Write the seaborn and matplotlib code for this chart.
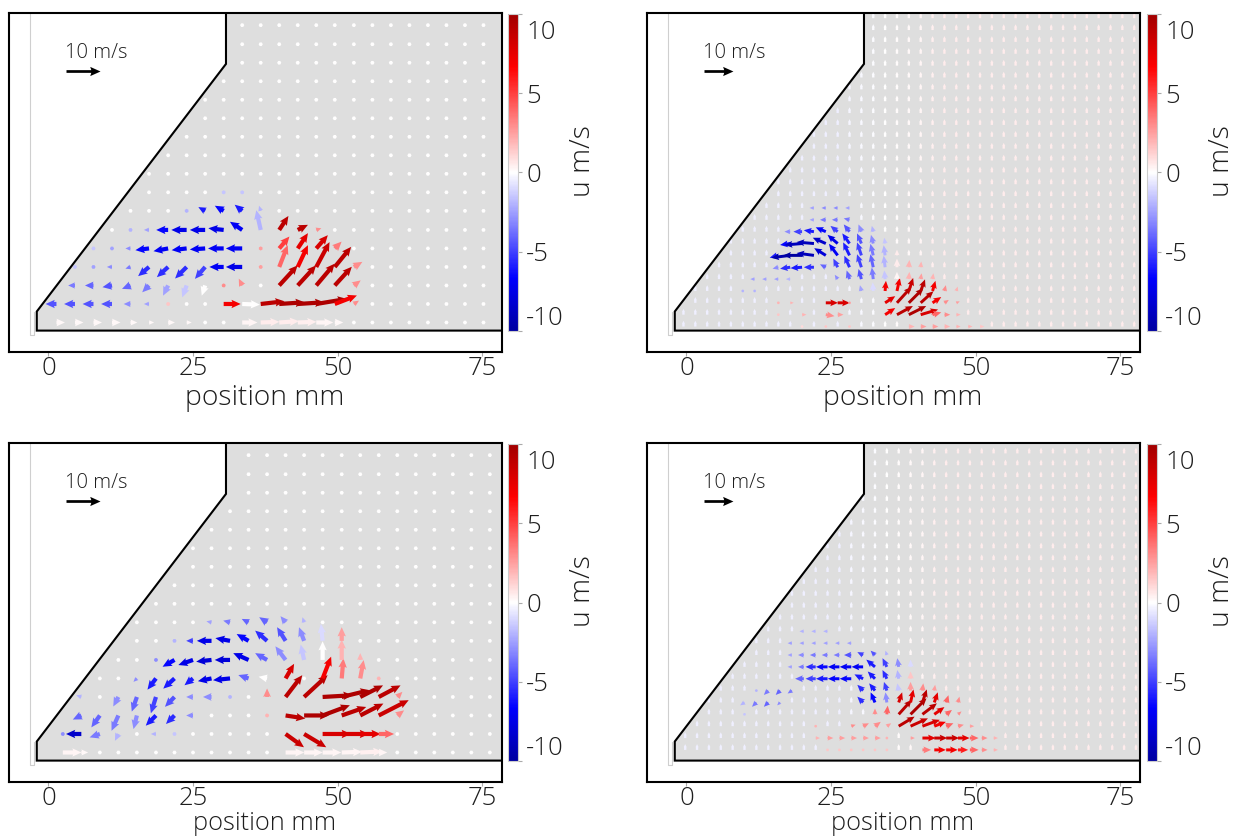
import numpy as np
import matplotlib
matplotlib.use("Agg")
import matplotlib.pyplot as plt
import seaborn as sns
from matplotlib.patches import Polygon
from matplotlib.colors import Normalize
from matplotlib.cm import ScalarMappable
from matplotlib.path import Path
from matplotlib.transforms import ScaledTranslation

# ------------------------------------------------------------------ data
# nozzle / measurement-window outline (mm)
shape_x = [-2.0, 78.3, 78.3, 30.7, 30.7, -2.0]
shape_y = [0.0, 0.0, 54.9, 54.9, 46.1, 3.3]

x_ticks = [0, 25, 50, 75]
cbar_ticks = [-10, -5, 0, 5, 10]
key_u = 10.0
key_label = "10 m/s"

# measurement grids (mm)
left_grid_y = [1.4, 4.6, 7.8, 11.0, 14.2, 17.4, 20.7, 23.9, 27.1, 30.3, 33.5,
               36.7, 39.9, 43.1, 46.3, 49.5, 52.8]
tl_grid_x = [1.4, 4.6, 7.8, 11.0, 14.2, 17.4, 20.7, 23.9, 27.1, 30.3, 33.5, 36.7,
             39.9, 43.1, 46.3, 49.5, 52.8, 56.0, 59.2, 62.4, 65.6, 68.8, 72.0, 75.2]
bl_grid_x = [2.5, 5.7, 8.9, 12.1, 15.3, 18.6, 21.8, 25.0, 28.2, 31.4, 34.6, 37.8,
             41.0, 44.2, 47.4, 50.7, 53.9, 57.1, 60.3, 63.5, 66.7, 69.9, 73.1, 76.3]
tr_grid_x = [-0.5, 1.55, 3.6, 5.65, 7.7, 9.75, 11.8, 13.85, 15.9, 17.95, 20.0, 22.05,
             24.1, 26.15, 28.2, 30.25, 32.3, 34.35, 36.4, 38.45, 40.5, 42.55, 44.6,
             46.65, 48.7, 50.75, 52.8, 54.85, 56.9, 58.95, 61.0, 63.05, 65.1, 67.15,
             69.2, 71.25, 73.3, 75.35, 77.4]
tr_grid_y = [0.7, 2.75, 4.8, 6.85, 8.9, 10.95, 13.0, 15.05, 17.1, 19.15, 21.2, 23.25,
             25.3, 27.35, 29.4, 31.45, 33.5, 35.55, 37.6, 39.65, 41.7, 43.75, 45.8,
             47.85, 49.9, 51.95, 54.0]
br_grid_x = [-0.2, 1.85, 3.9, 5.95, 8.0, 10.05, 12.1, 14.15, 16.2, 18.25, 20.3, 22.35,
             24.4, 26.45, 28.5, 30.55, 32.6, 34.65, 36.7, 38.75, 40.8, 42.85, 44.9,
             46.95, 49.0, 51.05, 53.1, 55.15, 57.2, 59.25, 61.3, 63.35, 65.4, 67.45,
             69.5, 71.55, 73.6, 75.65, 77.7]
br_grid_y = [1.85, 3.9, 5.95, 8.0, 10.05, 12.1, 14.15, 16.2, 18.25, 20.3, 22.35, 24.4,
             26.45, 28.5, 30.55, 32.6, 34.65, 36.7, 38.75, 40.8, 42.85, 44.9, 46.95,
             49.0, 51.05, 53.1]

# weak background flow in the fine (right) fields: vertical component and tint of u
tr_bg_v = 2.0
br_bg_v = 2.0
tr_bg_c = [-0.4, -0.4, -0.4, -0.4, -0.4, -0.4, -0.4, -0.4, -0.4, -0.4, -0.4, -0.4, -0.4,
           -0.4, -0.3, -0.2, -0.1, 0.0, 0.1, 0.2, 0.3, 0.4, 0.5, 0.5, 0.5, 0.5, 0.5, 0.5,
           0.5, 0.5, 0.5, 0.5, 0.5, 0.5, 0.5, 0.5, 0.5, 0.5, 0.5]
br_bg_c = [-0.4, -0.4, -0.4, -0.4, -0.4, -0.4, -0.4, -0.4, -0.4, -0.4, -0.4, -0.4, -0.4,
           -0.4, -0.3, -0.2, -0.1, 0.0, 0.1, 0.2, 0.3, 0.4, 0.5, 0.5, 0.5, 0.5, 0.5, 0.5,
           0.5, 0.5, 0.5, 0.5, 0.5, 0.5, 0.5, 0.5, 0.5, 0.5, 0.5]

# ---- top-left field (grid column, grid row, u, v, colour value u m/s)
tl_col = [0, 1, 2, 3, 4, 5, 6, 7, 10, 11, 12, 13, 14, 15,
          0, 1, 2, 3, 4, 5, 6, 9, 10, 11, 12, 13, 14, 15, 16,
          1, 2, 3, 4, 5, 6, 7, 8, 9, 10, 12, 13, 14, 15, 16,
          1, 2, 3, 4, 5, 6, 7, 8, 9, 10, 11, 12, 13, 14, 15, 16,
          2, 3, 4, 5, 6, 7, 8, 9, 10, 11, 12, 13, 14, 15,
          4, 5, 6, 7, 8, 9, 10, 11, 12, 13, 14,
          7, 8, 9, 10, 11,
          9, 10]
tl_row = [0, 0, 0, 0, 0, 0, 0, 0, 0, 0, 0, 0, 0, 0,
          1, 1, 1, 1, 1, 1, 1, 1, 1, 1, 1, 1, 1, 1, 1,
          2, 2, 2, 2, 2, 2, 2, 2, 2, 2, 2, 2, 2, 2, 2,
          3, 3, 3, 3, 3, 3, 3, 3, 3, 3, 3, 3, 3, 3, 3, 3,
          4, 4, 4, 4, 4, 4, 4, 4, 4, 4, 4, 4, 4, 4,
          5, 5, 5, 5, 5, 5, 5, 5, 5, 5, 5,
          6, 6, 6, 6, 6,
          7, 7]
tl_u = [2.5, 2.5, 2.5, 2.5, 2.0, 1.5, 2.0, 1.5, 4.5, 5.5, 5.8, 5.5, 5.0, 2.5,
        -3.2, -3.2, -3.2, -3.2, -2.0, -1.5, 0.8, 5.0, 5.2, 7.0, 7.5, 7.8, 9.0, 6.5, 1.5,
        -2.0, -2.5, -2.8, -2.5, -2.0, -1.5, -1.3, -1.0, 0.5, -1.0, 5.4, 5.4, 5.4, 5.0, 2.0,
        -0.8, -1.0, -1.5, -1.5, -3.2, -3.3, -3.4, -3.0, -4.2, -4.8, 0.5, 2.5, 3.0, 3.9, 4.8, 2.5,
        -0.5, -1.0, -1.5, -4.0, -4.3, -4.4, -4.5, -4.6, -4.8, -0.8, 3.0, 3.0, 3.4, 2.0,
        -1.0, -1.5, -3.5, -4.5, -4.5, -4.5, -3.6, -1.3, 2.7, 3.0, 1.5,
        -1.0, -2.0, -2.6, -2.2, -0.5,
        -0.8, -0.8]
tl_v = [0, 0, 0, 0, 0, 0, 0, 0, 0, 0.2, 0.4, 0.2, 0, 0,
        0, 0, 0, 0, 0, 0, 0, 0, -0.2, 0.8, 0.5, 0.5, 1.5, 2.5, 1.0,
        0, 0, -0.5, -1.0, -2.0, -3.0, -3.5, -3.0, 0.5, 2.0, 5.9, 5.9, 6.4, 5.5, 1.5,
        0, 0, 0, -0.5, -2.7, -3.0, -3.4, -3.5, 0, 0, 0.5, 6.4, 6.4, 7.3, 5.9, 1.5,
        0, 0, 0, -0.5, -0.8, -0.5, -0.3, 0, 0, 0.5, 3.5, 4.5, 3.9, 2.0,
        0, 0, 0, 0, 0, 0.5, 2.4, 5.8, 4.1, 1.5, 0.5,
        0.5, 1.1, 1.5, 1.8, 1.5,
        0.3, 0.5]
tl_c = [0.2, 0.2, 0.2, 0.2, 0.2, 0.2, 0.2, 0.2, 0.3, 0.5, 0.5, 0.4, 0.3, 0.2,
        -4.5, -4.5, -4.5, -4.5, -3.0, -2.5, 1.5, 7.0, 0.0, 9.0, 9.5, 9.5, 9.5, 7.0, 3.0,
        -3.5, -4.0, -4.5, -4.0, -3.5, -2.5, -1.5, 0.0, 3.0, 3.0, 9.0, 9.0, 9.0, 9.0, 3.0,
        -1.5, -2.5, -3.0, -3.5, -5.5, -5.5, -5.5, -5.0, -7.0, -7.5, 2.5, 4.0, 7.0, 8.5, 9.0, 3.0,
        -1.5, -2.5, -3.0, -6.5, -7.0, -7.0, -7.0, -7.0, -7.0, 2.5, 5.0, 7.5, 8.0, 3.5,
        -2.0, -2.5, -6.5, -7.5, -7.5, -7.5, -7.0, -2.0, 9.0, 9.0, 3.0,
        -2.0, -6.0, -6.5, -6.0, -2.0,
        -1.5, -1.5]

# ---- bottom-left field
bl_col = [0, 1, 12, 13, 14, 15, 16, 17,
          0, 1, 2, 3, 5, 6, 12, 13, 14, 15, 16, 17,
          1, 2, 3, 4, 5, 6, 7, 11, 12, 13, 14, 15, 16, 17, 18,
          1, 3, 4, 5, 6, 7, 8, 9, 11, 12, 13, 14, 15, 16, 17, 18,
          4, 5, 6, 7, 8, 9, 10, 11, 12, 14, 15, 16, 17,
          5, 6, 7, 8, 9, 10, 11, 12, 13, 14, 15, 16,
          6, 7, 8, 9, 10, 11, 12, 13, 14, 15,
          8, 9, 10, 11, 12, 13]
bl_row = [0, 0, 0, 0, 0, 0, 0, 0,
          1, 1, 1, 1, 1, 1, 1, 1, 1, 1, 1, 1,
          2, 2, 2, 2, 2, 2, 2, 2, 2, 2, 2, 2, 2, 2, 2,
          3, 3, 3, 3, 3, 3, 3, 3, 3, 3, 3, 3, 3, 3, 3, 3,
          4, 4, 4, 4, 4, 4, 4, 4, 4, 4, 4, 4, 4,
          5, 5, 5, 5, 5, 5, 5, 5, 5, 5, 5, 5,
          6, 6, 6, 6, 6, 6, 6, 6, 6, 6,
          7, 7, 7, 7, 7, 7]
bl_u = [5.5, 2.0, 5.5, 5.5, 5.5, 6.0, 6.5, 2.5,
        -1.0, -4.5, -3.0, -1.0, -1.5, -1.0, 5.4, 6.5, 8.3, 8.0, 6.0, 4.5,
        -2.5, -2.5, -2.0, -1.0, -3.0, -2.5, -2.0, 0.3, 5.8, 7.3, 8.0, 7.2, 6.8, 8.8, 2.0,
        -1.5, -1.5, -1.5, -1.5, -2.8, -2.0, -2.5, -1.0, 0.0, 4.9, 6.9, 8.8, 8.2, 6.7, 6.4, 1.5,
        -1.0, -2.5, -3.3, -2.5, -4.0, -5.0, -3.0, -2.5, 2.5, 2.5, 0.5, 1.0, 0.3,
        -1.0, -3.5, -4.3, -4.5, -4.5, -4.5, -3.5, -3.0, -1.0, 0.0, 0.0, 0.0,
        -1.0, -2.0, -4.3, -4.3, -3.5, -3.5, -2.5, -1.5, -0.5, 0.0,
        -1.5, -2.0, -2.0, -2.3, -1.5, -0.5]
bl_v = [0, 0, 0, 0, 0, 0.2, 0.3, 0,
        0, 0, -1.0, -2.0, 0, 0, -3.9, -3.9, 0, 0, 0, 0,
        -1.2, -3.5, -4.5, -4.0, -3.0, -2.5, 0, 0.3, -0.9, 0, 3.0, 2.5, 3.5, 4.5, 1.5,
        0.5, -2.8, -4.3, -4.8, -2.9, 0, 0, 0, 2.5, 6.4, 6.4, 0.5, 2.0, 3.4, 3.4, 1.5,
        -1.0, -3.3, -3.0, -2.0, -0.8, -0.5, 1.0, 0.5, 4.3, 6.4, 5.9, 5.4, 0.5,
        -0.5, -2.0, -1.5, -0.5, 0, 2.0, 2.0, 4.0, 4.5, 5.5, 6.0, 2.0,
        0, 0, 0, 0.8, 2.0, 3.0, 4.0, 4.0, 5.0, 4.0,
        0.3, 0.5, 1.0, 1.5, 1.8, 1.5]
bl_c = [0.3, 0.2, 0.3, 0.3, 0.3, 0.3, 0.4, 0.3,
        -3.0, -8.5, -3.5, -2.0, -2.0, -1.5, 8.5, 8.5, 8.0, 8.0, 7.5, 4.0,
        -4.0, -4.0, -3.5, -3.0, -6.0, -5.5, -3.0, 2.0, 9.0, 9.5, 9.5, 9.0, 9.0, 8.5, 3.0,
        -2.0, -3.0, -4.0, -5.0, -4.5, -3.0, -3.0, -2.0, 3.0, 9.0, 9.0, 9.5, 9.5, 9.5, 9.0, 3.0,
        -3.0, -6.0, -6.0, -6.0, -7.5, -7.5, -4.0, 0.0, 8.0, 7.0, 3.5, 3.0, 2.0,
        -3.0, -6.5, -7.5, -8.0, -8.0, -7.5, -4.0, -3.0, -1.5, 0.0, 2.0, 2.0,
        -2.0, -5.0, -7.5, -7.5, -6.5, -5.5, -4.5, -3.0, -1.0, 2.5,
        -2.5, -3.5, -4.0, -4.0, -3.0, -2.0]

# ---- top-right field (fine grid)
tr_col = [10, 12, 14, 19, 20, 21, 22, 23, 24, 25,
          8, 10, 12, 13, 17, 18, 19, 20, 21, 22, 23,
          8, 9, 12, 13, 14, 17, 18, 19, 20, 21, 22, 23,
          5, 6, 15, 16, 17, 18, 19, 20, 21, 22, 23,
          6, 7, 8, 9, 13, 14, 15, 16, 17, 18, 19, 20, 21,
          8, 9, 10, 11, 12, 13, 14, 15, 16, 17, 18, 19, 20,
          8, 9, 10, 11, 12, 13, 14, 15, 16, 17, 18,
          9, 10, 11, 12, 13, 14, 15, 16, 17,
          9, 10, 11, 12, 13, 14, 15, 16,
          11, 12, 13, 14,
          11, 12, 13, 14]
tr_row = [0, 0, 0, 0, 0, 0, 0, 0, 0, 0,
          1, 1, 1, 1, 1, 1, 1, 1, 1, 1, 1,
          2, 2, 2, 2, 2, 2, 2, 2, 2, 2, 2, 2,
          3, 3, 3, 3, 3, 3, 3, 3, 3, 3, 3,
          4, 4, 4, 4, 4, 4, 4, 4, 4, 4, 4, 4, 4,
          5, 5, 5, 5, 5, 5, 5, 5, 5, 5, 5, 5, 5,
          6, 6, 6, 6, 6, 6, 6, 6, 6, 6, 6,
          7, 7, 7, 7, 7, 7, 7, 7, 7,
          8, 8, 8, 8, 8, 8, 8, 8,
          9, 9, 9, 9,
          10, 10, 10, 10]
tr_u = [0.8, 1.0, 1.0, 2.0, 2.0, 2.0, 2.0, 1.5, 1.5, 1.5,
        1.0, 1.5, 3.0, 2.0, 3.5, 5.5, 6.0, 6.0, 3.0, 2.0, 1.5,
        1.0, 1.2, 4.2, 4.2, 1.0, 3.5, 5.0, 5.0, 4.4, 3.0, 1.5, 1.2,
        -1.0, -1.0, -0.5, -0.2, 0.3, 1.0, 1.5, 1.5, 1.0, 0.5, 0.5,
        -1.5, -1.5, -1.5, -1.5, -1.0, -1.0, -1.0, -0.5, -0.3, 0.0, 0.2, 0.3, 0.3,
        -2.0, -3.5, -4.0, -3.5, -2.0, -1.5, -1.8, -1.5, -1.0, -0.5, 0.0, 0.2, 0.2,
        -3.0, -6.5, -6.5, -6.0, -4.0, -3.0, -2.2, -1.5, -1.0, -0.5, 0.0,
        -3.5, -6.0, -6.0, -4.5, -3.5, -2.5, -1.5, -0.8, -0.3,
        -2.0, -3.0, -3.5, -3.5, -2.5, -2.0, -1.0, -0.5,
        -1.5, -2.0, -2.0, -2.0,
        -1.5, -1.5, -1.5, -1.5]
tr_v = [0, 0, 0, 0, 0, 0, 0, 0, 0, 0,
        0, 0, -0.5, 0, 2.3, 3.0, 3.0, 1.8, 0.8, 0, 0,
        0, 0, 0, 0, 0, 2.3, 5.5, 5.0, 4.0, 2.0, 1.0, 0.5,
        0, 0, 2.0, 3.0, 3.5, 4.5, 4.5, 4.0, 3.5, 2.0, 1.5,
        0, 0, 0, 0, 1.5, 3.0, 3.5, 4.0, 3.0, 2.5, 2.5, 2.0, 2.0,
        -0.5, -0.5, -0.3, 0, 1.0, 3.0, 4.0, 4.5, 4.5, 4.0, 3.0, 2.5, 2.0,
        -0.8, -0.8, 0, 0.8, 2.5, 4.0, 4.5, 4.5, 4.0, 3.5, 2.0,
        -0.5, -0.5, 0.5, 2.0, 3.0, 3.5, 3.5, 3.0, 2.0,
        0, 0, 0.5, 1.5, 2.0, 2.5, 2.5, 2.0,
        0, 0, 0, 0.5,
        0, 0, 0, 0]
tr_c = [1.0, 1.5, 1.5, 2.0, 2.5, 2.5, 2.0, 2.0, 2.0, 1.5,
        1.5, 2.0, 3.0, 2.5, 7.0, 9.0, 9.5, 8.0, 4.0, 3.0, 2.0,
        2.0, 2.0, 8.0, 8.0, 2.5, 7.5, 9.0, 9.5, 9.0, 7.0, 3.0, 2.5,
        -2.0, -2.0, -2.5, -1.0, 7.0, 7.0, 8.5, 9.0, 7.0, 3.0, 2.0,
        -2.5, -2.5, -2.5, -2.0, -3.0, -4.0, -4.5, -3.5, -1.5, 0.3, 2.0, 2.5, 2.0,
        -3.0, -5.5, -6.0, -5.5, -4.0, -5.0, -5.5, -5.0, -4.0, -2.0, 0.5, 2.0, 2.0,
        -6.0, -9.5, -10.0, -9.0, -8.0, -7.0, -6.0, -5.0, -3.5, -2.0, 0.5,
        -6.5, -9.0, -9.0, -8.5, -7.5, -6.0, -4.5, -3.0, -1.5,
        -3.0, -5.0, -6.0, -6.5, -5.0, -4.5, -3.0, -2.0,
        -2.5, -3.5, -3.5, -3.5,
        -2.5, -3.0, -3.0, -2.5]

# ---- bottom-right field (fine grid)
br_col = [12, 13, 14, 15, 16, 17, 20, 21, 22, 23, 24, 25, 26,
          11, 12, 13, 14, 15, 16, 17, 19, 20, 21, 22, 23, 24, 25, 26,
          11, 14, 15, 16, 17, 18, 19, 20, 21, 22, 23, 24,
          5, 16, 17, 18, 19, 20, 21, 22, 23,
          5, 6, 7, 8, 15, 16, 17, 18, 19, 20, 21, 22, 23,
          6, 7, 8, 9, 15, 16, 17, 18, 19, 20, 21,
          10, 11, 12, 13, 14, 15, 16, 17, 18, 19,
          9, 10, 11, 12, 13, 14, 15, 16, 17, 18, 19,
          9, 10, 11, 12, 13, 14, 15, 16, 17,
          9, 10, 11, 12, 13, 14,
          10, 11, 12]
br_row = [0, 0, 0, 0, 0, 0, 0, 0, 0, 0, 0, 0, 0,
          1, 1, 1, 1, 1, 1, 1, 1, 1, 1, 1, 1, 1, 1, 1,
          2, 2, 2, 2, 2, 2, 2, 2, 2, 2, 2, 2,
          3, 3, 3, 3, 3, 3, 3, 3, 3,
          4, 4, 4, 4, 4, 4, 4, 4, 4, 4, 4, 4, 4,
          5, 5, 5, 5, 5, 5, 5, 5, 5, 5, 5,
          6, 6, 6, 6, 6, 6, 6, 6, 6, 6,
          7, 7, 7, 7, 7, 7, 7, 7, 7, 7, 7,
          8, 8, 8, 8, 8, 8, 8, 8, 8,
          9, 9, 9, 9, 9, 9,
          10, 10, 10]
br_u = [1.0, 1.0, 1.0, 1.0, 1.0, 1.0, 3.0, 4.0, 4.0, 3.5, 3.0, 2.0, 1.5,
        1.5, 2.0, 2.0, 2.0, 2.0, 2.0, 1.0, 1.5, 4.6, 4.5, 4.5, 4.0, 3.0, 2.0, 1.5,
        1.0, 1.5, 2.0, 2.0, 1.5, 5.5, 6.0, 6.0, 4.0, 2.5, 2.0, 1.5,
        -1.0, 0.0, 0.3, 4.5, 5.5, 5.0, 3.5, 2.0, 1.2,
        -1.5, -1.5, -1.5, -1.0, -2.0, -1.5, -0.5, 1.2, 1.0, 1.5, 1.2, 0.8, 0.5,
        -1.0, -1.5, -1.5, -1.5, -2.0, -2.0, -1.0, -0.5, 0.0, 0.3, 0.3,
        -3.0, -3.5, -4.0, -4.0, -4.0, -3.0, -2.5, -1.5, -0.5, 0.0,
        -1.5, -2.0, -3.5, -4.0, -4.0, -4.0, -4.0, -3.0, -1.5, -0.5, 0.0,
        -1.5, -2.0, -2.0, -2.0, -2.0, -2.5, -2.0, -1.5, -0.5,
        -1.5, -1.5, -1.5, -1.5, -1.5, -1.5,
        -1.5, -1.5, -1.5]
br_v = [0, 0, 0, 0, 0, 0, 0, 0, 0, 0, 0, 0, 0,
        0, 0, 0, 0, 0, 0, 0, 0, 0, 0, 0, 0, 0, 0, 0,
        0, 0.5, 1.0, 1.5, 1.0, 3.3, 2.7, 2.2, 1.5, 1.0, 0.5, 0,
        0, 2.0, 3.0, 5.0, 5.5, 3.8, 2.5, 1.5, 1.0,
        -1.0, -1.5, -1.5, -1.0, 2.0, 3.5, 3.5, 3.5, 4.5, 4.5, 3.5, 2.5, 2.0,
        0, -1.5, -1.5, -1.0, 2.0, 2.5, 3.0, 2.5, 3.0, 2.5, 2.0,
        0, 0, 0, 0, 0, 1.5, 2.5, 3.0, 3.0, 2.5,
        0, 0, 0, 0, 0, 0, 0, 2.5, 3.0, 3.0, 2.5,
        0, 0, 0, 0, 0, 0, 1.0, 1.5, 1.5,
        0, 0, 0, 0, 0, 0,
        0, 0, 0]
br_c = [1.5, 1.5, 1.5, 1.5, 1.5, 1.5, 3.5, 7.0, 7.0, 6.0, 4.0, 3.0, 2.0,
        2.0, 2.5, 2.5, 2.5, 2.5, 2.5, 2.0, 2.5, 7.5, 8.5, 8.5, 7.5, 4.0, 3.0, 2.0,
        2.0, 3.0, 3.0, 3.0, 2.5, 9.0, 8.5, 8.0, 7.0, 4.0, 3.0, 2.5,
        -1.5, 3.0, 4.0, 9.0, 9.5, 9.0, 7.5, 4.0, 3.0,
        -2.0, -3.5, -4.0, -3.0, -5.5, -6.5, -3.0, 8.0, 7.5, 9.0, 7.5, 4.0, 3.0,
        -2.0, -3.5, -4.0, -3.5, -5.5, -6.0, -5.0, -1.5, 2.5, 3.0, 2.5,
        -4.0, -5.0, -6.0, -6.5, -6.5, -6.0, -6.0, -5.5, -2.0, 1.5,
        -2.5, -3.5, -5.5, -6.5, -7.0, -7.0, -7.0, -6.0, -5.0, -3.0, -1.0,
        -2.5, -3.0, -3.5, -3.5, -3.5, -4.5, -5.0, -4.5, -2.0,
        -2.5, -2.5, -2.5, -2.5, -2.5, -2.5,
        -2.0, -2.0, -2.0]

# ------------------------------------------------------------------ style
sns.set_theme(style="white")
plt.rcParams["font.family"] = ["Open Sans", "DejaVu Sans"]
plt.rcParams["font.weight"] = "light"
plt.rcParams["axes.labelweight"] = "light"
plt.rcParams["axes.unicode_minus"] = False

FS_TICK = 18.5
FS_KEY = 14.5
TXT = "#1e1e1e"

cmap = sns.blend_palette(["#0000a0", "#0000ff", "#8080ff", "#ffffff",
                          "#ff8080", "#ff0000", "#a00000"], as_cmap=True)
norm = Normalize(vmin=-10, vmax=10)

W, H = 1238, 838
fig = plt.figure(figsize=(W / 100, H / 100), dpi=100)


def rect(x0, y0, x1, y1):
    return [x0 / W, 1 - y1 / H, (x1 - x0) / W, (y1 - y0) / H]


# polygon helpers
poly = np.column_stack([shape_x, shape_y])
edges = [(poly[k], poly[(k + 1) % len(poly)]) for k in range(len(poly))]
poly_path = Path(np.vstack([poly, poly[:1]]))


def seg_dist(p, a, b):
    ab = b - a
    t = np.clip(np.dot(p - a, ab) / np.dot(ab, ab), 0, 1)
    return np.linalg.norm(p - (a + t * ab))


def inside(px, py, margin):
    p = np.array([px, py])
    if not poly_path.contains_point(p):
        return False
    return all(seg_dist(p, a, b) >= margin for a, b in edges)


def build(gx, gy, cols, rows, us, vs, cs, margin, bg_v=0.0, bg_c=None):
    """returns (measured strong vectors, weak background vectors)"""
    assert len(cols) == len(rows) == len(us) == len(vs) == len(cs)
    special = {(i, j): (u, v, c) for i, j, u, v, c in zip(cols, rows, us, vs, cs)}
    fg = [[], [], [], [], []]
    bg = [[], [], [], [], []]
    for j, yy in enumerate(gy):
        for i, xx in enumerate(gx):
            if (i, j) in special:
                u, v, c = special[(i, j)]
                tgt = fg
            elif inside(xx, yy, margin):
                u, v, c = 0.0, bg_v, (bg_c[i] if bg_c is not None else 0.0)
                tgt = bg
            else:
                continue
            for lst, val in zip(tgt, (xx, yy, u, v, c)):
                lst.append(val)
    return ([np.array(a, float) for a in fg], [np.array(a, float) for a in bg])


panels = [
    dict(ax=(9, 13, 502, 352), cax=(508, 14, 518, 331), lab=(583, 161),
         f=build(tl_grid_x, left_grid_y, tl_col, tl_row, tl_u, tl_v, tl_c, 0.9),
         scale=1.7, width=0.0085, hw=2.0, hl=2.2, hal=2.0, bgw=0.0085,
         xl_fs=20.3, xl_y=-0.094),
    dict(ax=(647, 13, 1140, 352), cax=(1147, 14, 1157, 331), lab=(1222, 161),
         f=build(tr_grid_x, tr_grid_y, tr_col, tr_row, tr_u, tr_v, tr_c, 0.55,
                 tr_bg_v, tr_bg_c),
         scale=2.0, width=0.006, hw=2.3, hl=2.6, hal=2.3, bgw=0.0048,
         xl_fs=20.3, xl_y=-0.094),
    dict(ax=(9, 443, 502, 782), cax=(508, 444, 518, 761), lab=(583, 591),
         f=build(bl_grid_x, left_grid_y, bl_col, bl_row, bl_u, bl_v, bl_c, 0.9),
         scale=1.7, width=0.0085, hw=2.0, hl=2.2, hal=2.0, bgw=0.0085,
         xl_fs=18.3, xl_y=-0.086),
    dict(ax=(647, 443, 1140, 782), cax=(1147, 444, 1157, 761), lab=(1222, 591),
         f=build(br_grid_x, br_grid_y, br_col, br_row, br_u, br_v, br_c, 0.55,
                 br_bg_v, br_bg_c),
         scale=2.0, width=0.006, hw=2.3, hl=2.6, hal=2.3, bgw=0.0048,
         xl_fs=18.3, xl_y=-0.086),
]

for p in panels:
    ax = fig.add_axes(rect(*p["ax"]))
    ax.set_xlim(-6.8, 78.4)
    ax.set_ylim(-3.7, 54.9)
    ax.set_facecolor("white")

    # grey measurement window
    ax.add_patch(Polygon(poly, closed=True, facecolor="#dedede",
                         edgecolor="none", zorder=1))
    ax.plot([78.3, -2.0, -2.0, 30.7, 30.7], [0.0, 0.0, 3.3, 46.1, 55.5],
            color="black", lw=1.5, zorder=4, solid_joinstyle="miter")
    ax.plot([-3.2, -3.2, -2.55, -2.55], [55.5, -0.75, -0.75, 3.3],
            color="#cfcfcf", lw=0.8, zorder=1)

    (X, Y, U, V, C), (bX, bY, bU, bV, bC) = p["f"]
    # weak background vectors (dots / short dashes)
    ax.quiver(bX, bY, bU, bV, bC, cmap=cmap, norm=norm, angles="xy",
              scale_units="xy", scale=p["scale"], width=p["bgw"],
              headwidth=1.3, headlength=1.3, headaxislength=1.3,
              minlength=1, pivot="tail", zorder=2, linewidth=0)
    # strong vectors
    ax.quiver(X, Y, U, V, C, cmap=cmap, norm=norm, angles="xy",
              scale_units="xy", scale=p["scale"], width=p["width"],
              headwidth=p["hw"], headlength=p["hl"], headaxislength=p["hal"],
              minlength=1, pivot="tail", zorder=3, linewidth=0)

    # reference arrow
    ax.quiver([3.1], [44.85], [key_u], [0.0], color="black", angles="xy",
              scale_units="xy", scale=p["scale"], width=0.0055, headwidth=3.4,
              headlength=3.8, headaxislength=3.4, zorder=5)
    ax.text(2.9, 47.2, key_label, fontsize=FS_KEY, color=TXT,
            ha="left", va="baseline", zorder=5)

    # axes styling
    for s in ax.spines.values():
        s.set_visible(True)
        s.set_color("black")
        s.set_linewidth(1.5)
    ax.set_xticks(x_ticks)
    ax.set_yticks([])
    ax.tick_params(axis="x", direction="out", length=2.6, width=0.8,
                   color="#aaaaaa", labelsize=FS_TICK, labelcolor=TXT, pad=0.5,
                   bottom=True)
    ax.set_xlabel("position mm", fontsize=p["xl_fs"], color=TXT, fontweight="light")
    ax.xaxis.set_label_coords(0.518, p["xl_y"])

    # colour bar
    cax = fig.add_axes(rect(*p["cax"]))
    cb = fig.colorbar(ScalarMappable(norm=norm, cmap=cmap), cax=cax,
                      ticks=cbar_ticks)
    cb.outline.set_edgecolor("#cccccc")
    cb.outline.set_linewidth(0.8)
    cax.tick_params(axis="y", direction="out", length=3, width=0.8,
                    color="#aaaaaa", labelsize=FS_TICK, labelcolor=TXT, pad=3)
    cax.set_yticklabels([str(t) for t in cbar_ticks])
    labs = cax.get_yticklabels()
    labs[0].set_va("bottom")
    labs[-1].set_va("top")
    labs[-1].set_transform(labs[-1].get_transform() +
                           ScaledTranslation(0, -6 / 100, fig.dpi_scale_trans))
    fig.text(p["lab"][0] / W, 1 - p["lab"][1] / H, "u m/s", rotation=90,
             ha="center", va="center", fontsize=20.3, color=TXT,
             fontweight="light")

fig.savefig("out.png", dpi=100)
